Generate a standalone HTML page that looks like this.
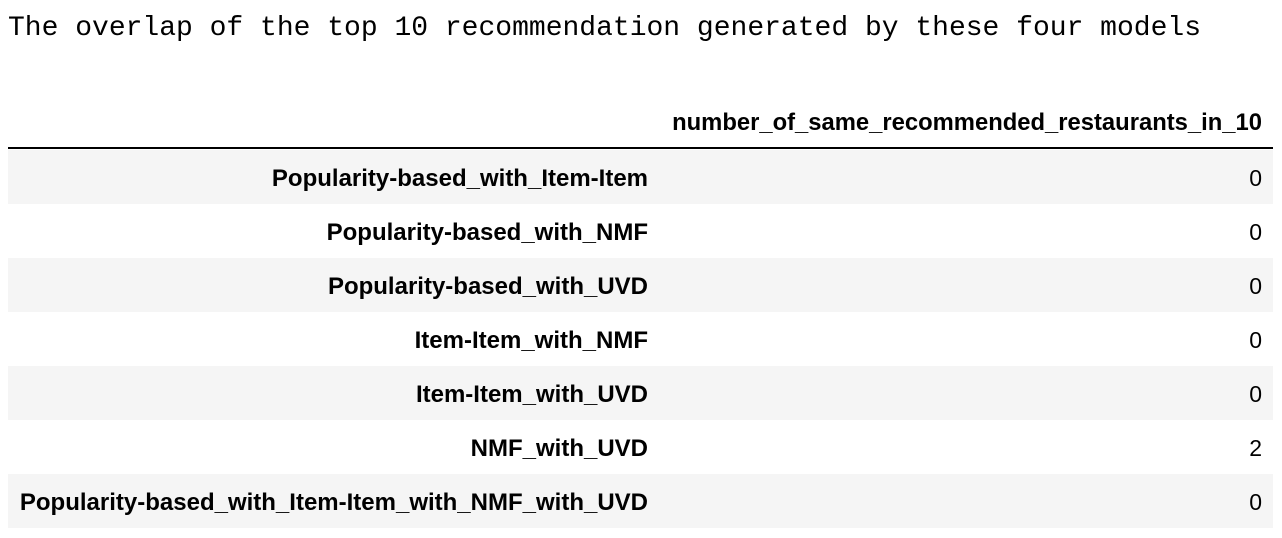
<!DOCTYPE html>
<html><head><meta charset="utf-8"><style>
body{margin:0;width:1282px;height:538px;background:#fff;position:relative;overflow:hidden;font-family:"Liberation Sans",Arial,sans-serif;color:#000}
.t{position:absolute;left:8px;top:13px;font-family:"Liberation Mono",monospace;font-size:28px;line-height:32px;white-space:pre}
.h{position:absolute;right:20px;top:108px;font-weight:bold;font-size:23.8px;line-height:30px}
.line{position:absolute;left:8px;top:147px;width:1265px;height:2px;background:#000}
.r{position:absolute;left:8px;width:1265px;height:54px}
.r.s{background:#f5f5f5}
.l{position:absolute;right:625px;top:15px;font-weight:bold;font-size:24px;line-height:28px;white-space:nowrap}
.v{position:absolute;right:11px;top:14px;font-size:23px;line-height:28px}
</style></head><body>
<div class="t">The overlap of the top 10 recommendation generated by these four models</div>
<div class="h">number_of_same_recommended_restaurants_in_10</div>
<div class="line"></div>
<div class="r s" style="top:150px"><span class="l">Popularity-based_with_Item-Item</span><span class="v">0</span></div>
<div class="r" style="top:204px"><span class="l">Popularity-based_with_NMF</span><span class="v">0</span></div>
<div class="r s" style="top:258px"><span class="l">Popularity-based_with_UVD</span><span class="v">0</span></div>
<div class="r" style="top:312px"><span class="l">Item-Item_with_NMF</span><span class="v">0</span></div>
<div class="r s" style="top:366px"><span class="l">Item-Item_with_UVD</span><span class="v">0</span></div>
<div class="r" style="top:420px"><span class="l">NMF_with_UVD</span><span class="v">2</span></div>
<div class="r s" style="top:474px"><span class="l">Popularity-based_with_Item-Item_with_NMF_with_UVD</span><span class="v">0</span></div>
</body></html>
